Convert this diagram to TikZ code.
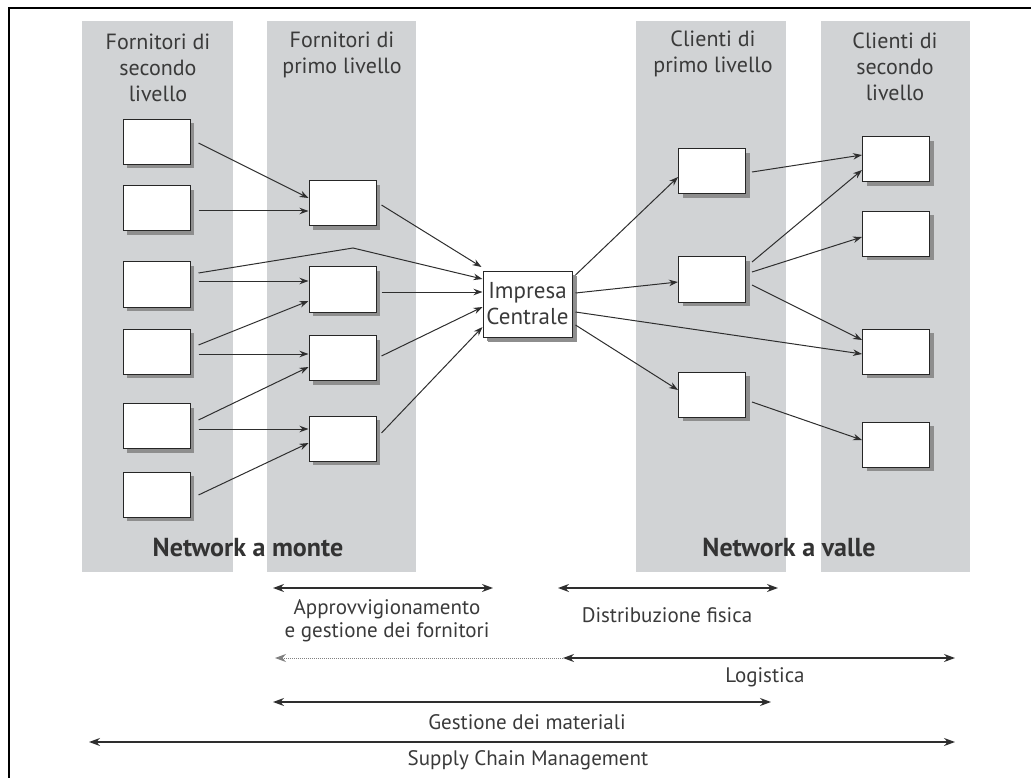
\documentclass[tikz,border=0pt]{standalone}
\usepackage{fontspec}
\setmainfont{PT Sans}
\usetikzlibrary{arrows.meta,calc,shadows}
\definecolor{bandgray}{HTML}{D1D3D5}
\definecolor{shadowgray}{HTML}{8E8E8E}
\definecolor{linegray}{HTML}{2E2E2E}
\definecolor{textgray}{HTML}{3A3A3A}
\begin{document}
\begin{tikzpicture}[x=1pt,y=-1pt,
  box/.style={draw=black!85, line width=1pt, fill=white, minimum width=67pt, minimum height=45pt, inner sep=0pt,
    drop shadow={shadow xshift=4pt, shadow yshift=-4pt, fill=shadowgray, opacity=1}},
  head/.style={align=center, font=\fontsize{22}{26}\selectfont, text=textgray, inner sep=0pt},
  netlab/.style={font=\bfseries\fontsize{26}{28}\selectfont, text=black!80, inner sep=0pt},
  blab/.style={align=center, font=\fontsize{21}{23}\selectfont, text=textgray, inner sep=0pt},
  conn/.style={draw=linegray, line width=1pt, -{Stealth[length=9pt,width=6.5pt]}},
  barrow/.style={draw=linegray, line width=1.2pt, {Stealth[length=11pt,width=8pt]}-{Stealth[length=11pt,width=8pt]}}
]
\useasboundingbox (0,0) rectangle (1031,778);
% frame
\draw[line width=2pt, black] (9,778) -- (9,8) -- (1031,8);
% bands
\fill[bandgray] (82,21) rectangle (233,572);
\fill[bandgray] (267,21) rectangle (416,572);
\fill[bandgray] (636,21) rectangle (786,572);
\fill[bandgray] (821,21) rectangle (970,572);
% headings
\node[head] (h1) at (158,67.5) {Fornitori di\\secondo\\livello};
\node[head] (h2) at (342,54.5) {Fornitori di\\primo livello};
\node[head] (h3) at (713,54) {Clienti di\\primo livello};
\node[head] (h4) at (895,67) {Clienti di\\secondo\\livello};
\node[netlab] (nm) at (248,548) {Network a monte};
\node[netlab] (nv) at (789,548) {Network a valle};
% column 1
\node[box] (b1) at (156.5,142) {};
\node[box] (b2) at (156.5,208.5) {};
\node[box] (b3) at (156.5,284.5) {};
\node[box] (b4) at (156.5,351.5) {};
\node[box] (b5) at (156.5,426) {};
\node[box] (b6) at (156.5,494.5) {};
% column 2
\node[box] (a) at (342.5,203.5) {};
\node[box] (b) at (342.5,289.5) {};
\node[box] (c) at (342.5,358) {};
\node[box] (d) at (342.5,438.5) {};
% central
\node[box, minimum width=89pt, minimum height=66pt, align=center, font=\fontsize{23}{26}\selectfont, text=textgray,
  drop shadow={shadow xshift=5pt, shadow yshift=-5pt, fill=shadowgray, opacity=1}] (ic) at (527.5,304) {Impresa\\Centrale};
% column 3
\node[box] (e1) at (712,171.5) {};
\node[box] (e2) at (712,279.5) {};
\node[box] (e3) at (712,394.5) {};
% column 4
\node[box] (f1) at (896,159.5) {};
\node[box] (f2) at (896,234) {};
\node[box] (f3) at (896,351.5) {};
\node[box] (f4) at (896,444.5) {};
% connectors col1 -> col2
\draw[conn] ($(b1.east)+(8,1)$) -- ($(a.west)+(0,-5.5)$);
\draw[conn] ($(b2.east)+(8,2.5)$) -- ($(a.west)+(0,7.5)$);
\coordinate (bend) at (353,248);
\draw[conn] ($(b3.east)+(8,-11.5)$) -- (bend) -- ($(ic.west)+(0,-25)$);
\draw[conn] ($(b3.east)+(8,-3.5)$) -- ($(b.west)+(0,-8.5)$);
\draw[conn] ($(b4.east)+(8,-6.5)$) -- ($(b.west)+(0,11.5)$);
\draw[conn] ($(b4.east)+(8,2.5)$) -- ($(c.west)+(0,-4)$);
\draw[conn] ($(b5.east)+(8,-6)$) -- ($(c.west)+(0,9)$);
\draw[conn] ($(b5.east)+(8,3)$) -- ($(d.west)+(0,-9.5)$);
\draw[conn] ($(b6.east)+(8,0.5)$) -- ($(d.west)+(0,4.5)$);
% col2 -> central
\draw[conn] ($(a.east)+(5,1.5)$) -- ($(ic.west)+(-1,-37)$);
\draw[conn] ($(b.east)+(5,2.5)$) -- ($(ic.west)+(0,-12)$);
\draw[conn] ($(c.east)+(5,-2)$) -- ($(ic.west)+(0,3)$);
\draw[conn] ($(d.east)+(5,-5.5)$) -- ($(ic.west)+(0,23)$);
% central -> col3/col4
\draw[conn] ($(ic.east)+(3,-29)$) -- ($(e1.west)+(0,5.5)$);
\draw[conn] ($(ic.east)+(3,-11)$) -- ($(e2.west)+(0,2.5)$);
\draw[conn] ($(ic.east)+(3,8)$) -- ($(f3.west)+(0,2.5)$);
\draw[conn] ($(ic.east)+(3,21)$) -- ($(e3.west)+(0,-4.5)$);
% col3 -> col4
\draw[conn] ($(e1.east)+(6,0.5)$) -- ($(f1.west)+(0,-4.5)$);
\draw[conn] ($(e2.east)+(6,-17.5)$) -- ($(f1.west)+(0,10.5)$);
\draw[conn] ($(e2.east)+(6,-7.5)$) -- ($(f2.west)+(0,3)$);
\draw[conn] ($(e2.east)+(6,5.5)$) -- ($(f3.west)+(0,-11.5)$);
\draw[conn] ($(e3.east)+(6,7.5)$) -- ($(f4.west)+(0,-4.5)$);
% bottom ranges
\coordinate (ap1) at (273,588); \coordinate (ap2) at (493,588);
\draw[barrow] (ap1) -- (ap2);
\node[blab] (apl) at (387,620.5) {Approvvigionamento\\e gestione dei fornitori};
\coordinate (di1) at (558,588); \coordinate (di2) at (778,588);
\draw[barrow] (di1) -- (di2);
\node[blab] (dil) at (667,615) {Distribuzione fisica};
\coordinate (lo0) at (275,658); \coordinate (lo1) at (563,658); \coordinate (lo2) at (955,658);
\draw[draw=gray, line width=1pt, densely dotted, {Stealth[length=11pt,width=8pt]}-] (lo0) -- (lo1);
\draw[barrow] (lo1) -- (lo2);
\node[blab] (lol) at (765,677) {Logistica};
\coordinate (ge1) at (273,702); \coordinate (ge2) at (771,702);
\draw[barrow] (ge1) -- (ge2);
\node[blab] (gel) at (527,722) {Gestione dei materiali};
\coordinate (sc1) at (89,742); \coordinate (sc2) at (955,742);
\draw[barrow] (sc1) -- (sc2);
\node[blab] (scl) at (528,760) {Supply Chain Management};
\end{tikzpicture}
\end{document}
